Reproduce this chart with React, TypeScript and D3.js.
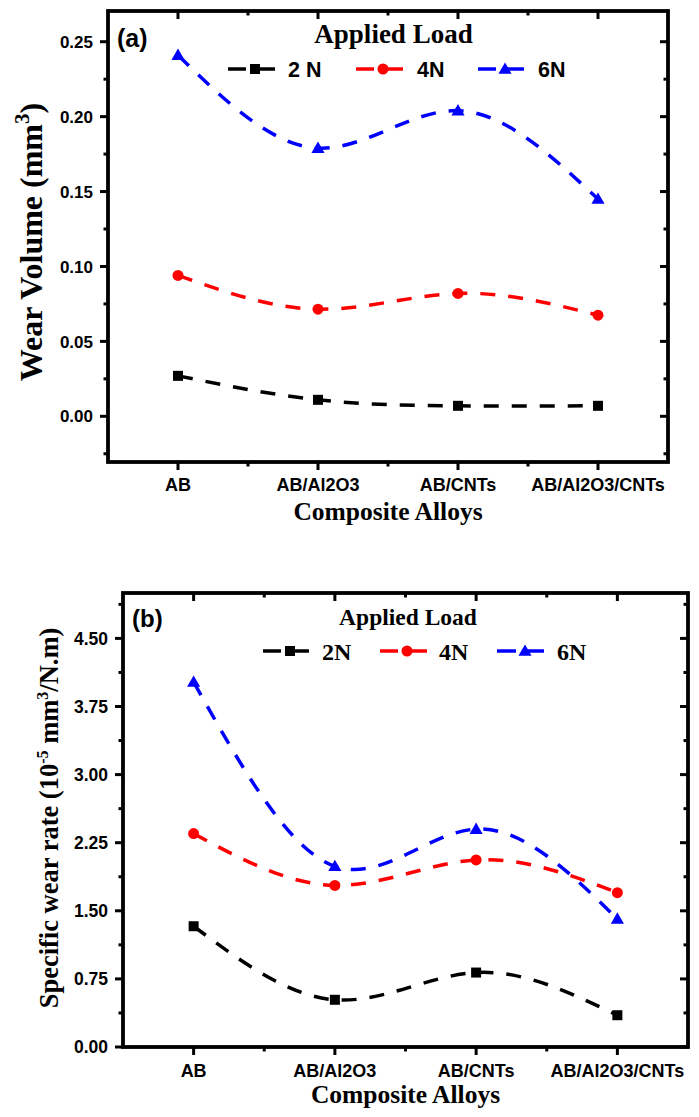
import React from "react";
import * as d3 from "d3";

// composites on the x axis
const categories = ["AB", "AB/Al2O3", "AB/CNTs", "AB/Al2O3/CNTs"];

// panel (a) wear volume, mm3
const volume2N = [0.027, 0.011, 0.007, 0.007];
const volume4N = [0.094, 0.0715, 0.082, 0.0675];
const volume6N = [0.241, 0.179, 0.204, 0.145];
const volumeTicks = [0, 0.05, 0.1, 0.15, 0.2, 0.25];

// panel (b) specific wear rate, 10^-5 mm3/N.m
const rate2N = [1.33, 0.52, 0.82, 0.35];
const rate4N = [2.35, 1.78, 2.06, 1.7];
const rate6N = [4.02, 1.99, 2.4, 1.41];
const rateTicks = [0, 0.75, 1.5, 2.25, 3, 3.75, 4.5];

const legendA = ["2 N", "4N", "6N"];
const legendB = ["2N", "4N", "6N"];
const colors = ["#000000", "#ff0000", "#0000ff"];
const shapes = ["square", "circle", "triangle"];

const SANS = "'Liberation Sans', Arial, sans-serif";
const SERIF = "'Liberation Serif', 'Times New Roman', serif";

type Box = { left: number; right: number; top: number; bottom: number };

interface LegendCfg {
  titleX: number;
  titleY: number;
  titleSize: number;
  lineY: number;
  lines: [number, number, number][]; // x1, marker x, x2
  textX: number[];
  textY: number;
  font: string;
  fontSize: number;
  labels: string[];
}

interface PanelProps {
  box: Box;
  yDomain: [number, number];
  yTicks: number[];
  minorStep: number;
  series: number[][];
  tag: string;
  tagX: number;
  tagY: number;
  tagSize: number;
  tickSize: number;
  yTitle: React.ReactNode;
  yTitleX: number;
  yTitleY: number;
  yTitleSize: number;
  xTitleY: number;
  catY: number;
  legend: LegendCfg;
}

const Marker = ({ shape, x, y, color }: { shape: string; x: number; y: number; color: string }) => {
  if (shape === "square") return <rect x={x - 5} y={y - 5} width={10} height={10} fill={color} />;
  if (shape === "circle") return <circle cx={x} cy={y} r={5.5} fill={color} />;
  const tri = d3.symbol(d3.symbolTriangle, 75)() || "";
  return <path d={tri} transform={`translate(${x},${y + 1})`} fill={color} />;
};

const Panel = (p: PanelProps) => {
  const { left, right, top, bottom } = p.box;
  const x = d3.scaleLinear().domain([0.5, 4.5]).range([left, right]);
  const y = d3.scaleLinear().domain(p.yDomain).range([bottom, top]);
  const line = d3
    .line<number>()
    .x((_, i) => x(i + 1))
    .y((d) => y(d))
    .curve(d3.curveNatural);

  const kMin = Math.ceil(p.yDomain[0] / p.minorStep - 1e-6);
  const kMax = Math.floor(p.yDomain[1] / p.minorStep + 1e-6);
  const yMinor = d3.range(kMin, kMax + 1).filter((k) => Math.abs(k) % 2 === 1).map((k) => k * p.minorStep);
  const xMajor = categories.map((_, i) => i + 1);
  const xMinor = [1.5, 2.5, 3.5];
  const fmt = d3.format(".2f");
  const maj = 8;
  const min = 4.5;
  const lg = p.legend;

  return (
    <g>
      {/* data lines */}
      {p.series.map((s, si) => (
        <path
          key={"l" + si}
          d={line(s) || ""}
          fill="none"
          stroke={colors[si]}
          strokeWidth={3.5}
          strokeDasharray="15,13"
        />
      ))}
      {p.series.map((s, si) =>
        s.map((v, i) => <Marker key={`m${si}-${i}`} shape={shapes[si]} x={x(i + 1)} y={y(v)} color={colors[si]} />)
      )}

      {/* frame */}
      <rect x={left} y={top} width={right - left} height={bottom - top} fill="none" stroke="#000" strokeWidth={3.8} />

      {/* y ticks: out on the left, in on the right */}
      {p.yTicks.map((t) => (
        <g key={"yt" + t}>
          <line x1={left - maj} x2={left} y1={y(t)} y2={y(t)} stroke="#000" strokeWidth={3} />
          <line x1={right - maj} x2={right} y1={y(t)} y2={y(t)} stroke="#000" strokeWidth={3} />
          <text
            x={left - 15}
            y={y(t)}
            dy="0.36em"
            textAnchor="end"
            fontFamily={SANS}
            fontWeight="bold"
            fontSize={p.tickSize}
          >
            {fmt(t)}
          </text>
        </g>
      ))}
      {yMinor.map((t) => (
        <g key={"ym" + t}>
          <line x1={left - min} x2={left} y1={y(t)} y2={y(t)} stroke="#000" strokeWidth={3} />
          <line x1={right - min} x2={right} y1={y(t)} y2={y(t)} stroke="#000" strokeWidth={3} />
        </g>
      ))}

      {/* x ticks: out at the bottom, in at the top */}
      {xMajor.map((t, i) => (
        <g key={"xt" + t}>
          <line x1={x(t)} x2={x(t)} y1={bottom} y2={bottom + maj} stroke="#000" strokeWidth={3} />
          <line x1={x(t)} x2={x(t)} y1={top} y2={top + maj} stroke="#000" strokeWidth={3} />
          <text x={x(t)} y={p.catY} textAnchor="middle" fontFamily={SANS} fontWeight="bold" fontSize={18}>
            {categories[i]}
          </text>
        </g>
      ))}
      {xMinor.map((t) => (
        <g key={"xm" + t}>
          <line x1={x(t)} x2={x(t)} y1={bottom} y2={bottom + min} stroke="#000" strokeWidth={3} />
          <line x1={x(t)} x2={x(t)} y1={top} y2={top + min} stroke="#000" strokeWidth={3} />
        </g>
      ))}

      {/* titles */}
      <text
        x={(left + right) / 2}
        y={p.xTitleY}
        textAnchor="middle"
        fontFamily={SERIF}
        fontWeight="bold"
        fontSize={25.5}
      >
        Composite Alloys
      </text>
      <text
        transform={`translate(${p.yTitleX},${p.yTitleY}) rotate(-90)`}
        textAnchor="middle"
        fontFamily={SERIF}
        fontWeight="bold"
        fontSize={p.yTitleSize}
      >
        {p.yTitle}
      </text>
      <text x={p.tagX} y={p.tagY} fontFamily={SANS} fontWeight="bold" fontSize={p.tagSize}>
        {p.tag}
      </text>

      {/* legend */}
      <text
        x={lg.titleX}
        y={lg.titleY}
        textAnchor="middle"
        fontFamily={SERIF}
        fontWeight="bold"
        fontSize={lg.titleSize}
      >
        Applied Load
      </text>
      {lg.lines.map(([x1, mx, x2], i) => (
        <g key={"lg" + i}>
          <line x1={x1} x2={mx - 9} y1={lg.lineY} y2={lg.lineY} stroke={colors[i]} strokeWidth={3.5} />
          <line x1={mx} x2={x2} y1={lg.lineY} y2={lg.lineY} stroke={colors[i]} strokeWidth={3.5} />
          <Marker shape={shapes[i]} x={mx} y={lg.lineY} color={colors[i]} />
          <text x={lg.textX[i]} y={lg.textY} fontFamily={lg.font} fontWeight="bold" fontSize={lg.fontSize}>
            {lg.labels[i]}
          </text>
        </g>
      ))}
    </g>
  );
};

const App = () => {
  return (
    <svg
      width={699}
      height={1117}
      style={{ position: "absolute", left: 0, top: 0, background: "#fff" }}
    >
      <Panel
        box={{ left: 108, right: 668, top: 11, bottom: 462 }}
        yDomain={[-0.0305, 0.2705]}
        yTicks={volumeTicks}
        minorStep={0.025}
        series={[volume2N, volume4N, volume6N]}
        tag="(a)"
        tagX={117}
        tagY={47}
        tagSize={25}
        tickSize={17}
        yTitle={
          <>
            Wear Volume (mm
            <tspan dy={-13} fontSize={21}>
              3
            </tspan>
            <tspan dy={13}>)</tspan>
          </>
        }
        yTitleX={42}
        yTitleY={242}
        yTitleSize={32}
        xTitleY={520}
        catY={491}
        legend={{
          titleX: 393.5,
          titleY: 43,
          titleSize: 27,
          lineY: 69,
          lines: [
            [228, 255, 275],
            [356, 383, 403],
            [478, 505, 524],
          ],
          textX: [288, 417, 538],
          textY: 77,
          font: SANS,
          fontSize: 21.5,
          labels: legendA,
        }}
      />
      <Panel
        box={{ left: 123, right: 688, top: 593, bottom: 1047 }}
        yDomain={[0, 5.0]}
        yTicks={rateTicks}
        minorStep={0.375}
        series={[rate2N, rate4N, rate6N]}
        tag="(b)"
        tagX={132}
        tagY={627}
        tagSize={24}
        tickSize={17.5}
        yTitle={
          <>
            Specific wear rate (10
            <tspan dy={-10} fontSize={16}>
              -5
            </tspan>
            <tspan dy={10}> mm</tspan>
            <tspan dy={-10} fontSize={16}>
              3
            </tspan>
            <tspan dy={10}>/N.m)</tspan>
          </>
        }
        yTitleX={58}
        yTitleY={818}
        yTitleSize={26.5}
        xTitleY={1103}
        catY={1077}
        legend={{
          titleX: 408,
          titleY: 625,
          titleSize: 23.5,
          lineY: 651,
          lines: [
            [263, 290, 309],
            [380, 407, 427],
            [497, 525, 544],
          ],
          textX: [322, 439, 557],
          textY: 660,
          font: SERIF,
          fontSize: 24,
          labels: legendB,
        }}
      />
    </svg>
  );
};

export default App;
